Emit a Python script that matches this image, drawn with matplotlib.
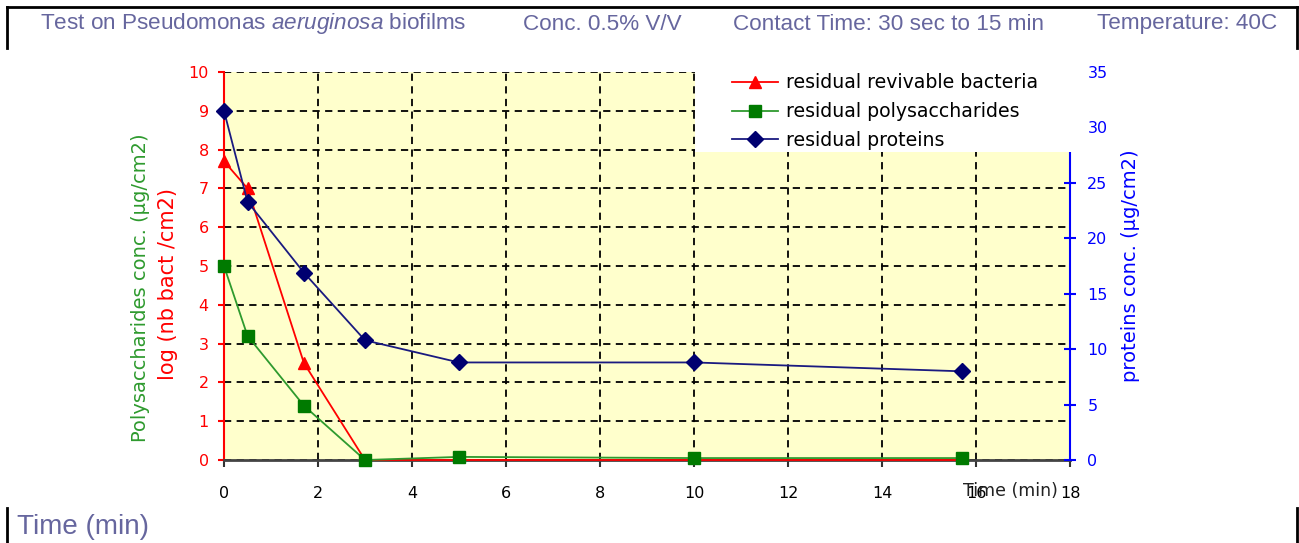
import numpy as np
import matplotlib.pyplot as plt
from matplotlib.patches import Rectangle
from matplotlib.lines import Line2D

plt.rcParams['mathtext.fontset'] = 'custom'
plt.rcParams['mathtext.rm'] = 'Liberation Sans'
plt.rcParams['mathtext.it'] = 'Liberation Sans:italic'

# data
time_min = [0, 0.5, 1.7, 3, 5, 10, 15.7]
bacteria = [7.7, 7.0, 2.5, 0, 0, 0, 0]                   # log (nb bact/cm2)
polysaccharides = [5.0, 3.2, 1.4, 0.0, 0.08, 0.05, 0.05]  # µg/cm2
proteins = [31.5, 23.3, 16.9, 10.8, 8.8, 8.8, 8.0]       # µg/cm2

left_ticks = list(range(0, 11))
right_ticks = list(range(0, 36, 5))
x_ticks = list(range(0, 19, 2))

W, H = 1299, 543
fig = plt.figure(figsize=(W / 100, H / 100), dpi=100)

# header / footer like a web table
head_color = '#66669e'
head_y = 1 - 24 / H
fig.text(40 / W, head_y, r'Test on Pseudomonas $\mathit{aeruginosa}$ biofilms',
         color=head_color, fontsize=16.2, family='Liberation Sans', va='center')
fig.text(523 / W, head_y, 'Conc. 0.5% V/V', color=head_color, fontsize=16.2,
         family='Liberation Sans', va='center')
fig.text(733 / W, head_y, 'Contact Time: 30 sec to 15 min', color=head_color,
         fontsize=16.2, family='Liberation Sans', va='center')
fig.text(1097 / W, head_y, 'Temperature: 40C', color=head_color, fontsize=16.2,
         family='Liberation Sans', va='center')
fig.text(17 / W, 1 - 527 / H, 'Time (min)', color=head_color, fontsize=20,
         family='Liberation Sans', va='center')

for seg in [([7, 1297], [7, 7]), ([7, 7], [7, 48]), ([1297, 1297], [7, 48]),
            ([7, 7], [508, 543]), ([1297, 1297], [508, 543])]:
    fig.add_artist(Line2D([s / W for s in seg[0]], [1 - s / H for s in seg[1]],
                          color='black', lw=2))

# chart
ax = fig.add_axes([224 / W, 1 - 460 / H, 846 / W, 388 / H])
ax.set_facecolor('#ffffcc')
ax.set_xlim(0, 18)
ax.set_ylim(0, 10)
ax.set_xticks(x_ticks)
ax.set_yticks(left_ticks)
ax.grid(True, color='black', linestyle=(0, (4, 3)), lw=1.3)
ax.set_axisbelow(True)

# red markers at the zero points sit under the green squares in the original
ax.plot(time_min, bacteria, color='#ff0000', lw=1.3, marker='^', ms=9,
        markevery=[0, 1, 2], label='residual revivable bacteria', zorder=3,
        clip_on=False)
ax.plot(time_min, polysaccharides, color='#2e9a2e', lw=1.3, marker='s', ms=9,
        mfc='#007a00', mec='#007a00', label='residual polysaccharides', zorder=3,
        clip_on=False)

ax2 = ax.twinx()
ax2.set_ylim(0, 35)
ax2.set_yticks(right_ticks)
ax2.plot(time_min, proteins, color='#1a1a80', lw=1.3, marker='D', ms=8,
         mfc='#000070', mec='#000070', label='residual proteins', zorder=3,
         clip_on=False)

for a in (ax, ax2):
    a.spines['top'].set_visible(False)
ax.spines['right'].set_visible(False)
ax2.spines['left'].set_visible(False)
ax2.spines['bottom'].set_visible(False)
ax.spines['left'].set_color('#ff0000')
ax.spines['left'].set_linewidth(1.5)
ax.spines['bottom'].set_color('#444444')
ax.spines['bottom'].set_linewidth(2)
ax2.spines['right'].set_color('#0000ff')
ax2.spines['right'].set_linewidth(1.5)

ax.tick_params(axis='y', colors='#ff0000', labelsize=11.5, length=4, width=1.5, pad=7)
ax.tick_params(axis='x', colors='#333333', labelcolor='black', labelsize=11.5,
               length=5, width=1.5, pad=14)
ax2.tick_params(axis='y', colors='#0000ff', labelsize=11.5, direction='inout',
                length=9, width=1.5, pad=8)

fig.text(1010 / W, 1 - 491 / H, 'Time (min)', fontsize=12.5, ha='center',
         va='center', color='#222222')
fig.text(140 / W, 1 - 288 / H, 'Polysaccharides conc. (µg/cm2)', rotation=90,
         color='#2e9a2e', fontsize=14, ha='center', va='center')
fig.text(168 / W, 1 - 284 / H, 'log (nb bact /cm2)', rotation=90,
         color='#ff0000', fontsize=15, ha='center', va='center')
fig.text(1131 / W, 1 - 266 / H, 'proteins conc. (µg/cm2)', rotation=90,
         color='#0000ff', fontsize=14, ha='center', va='center')

# white legend area over the top-right of the plot
ax2.add_patch(Rectangle((0.557, 0.794), 0.452, 0.24, transform=ax2.transAxes,
                        facecolor='white', edgecolor='none', clip_on=False, zorder=10))
handles = ax.get_lines() + ax2.get_lines()
leg = ax2.legend(handles=handles, loc='upper left', bbox_to_anchor=(0.592, 1.016),
                 frameon=False, fontsize=13.6, handlelength=2.4, handletextpad=0.45,
                 labelspacing=0.52, borderaxespad=0)
leg.set_zorder(11)

fig.savefig('out.png', dpi=100)
